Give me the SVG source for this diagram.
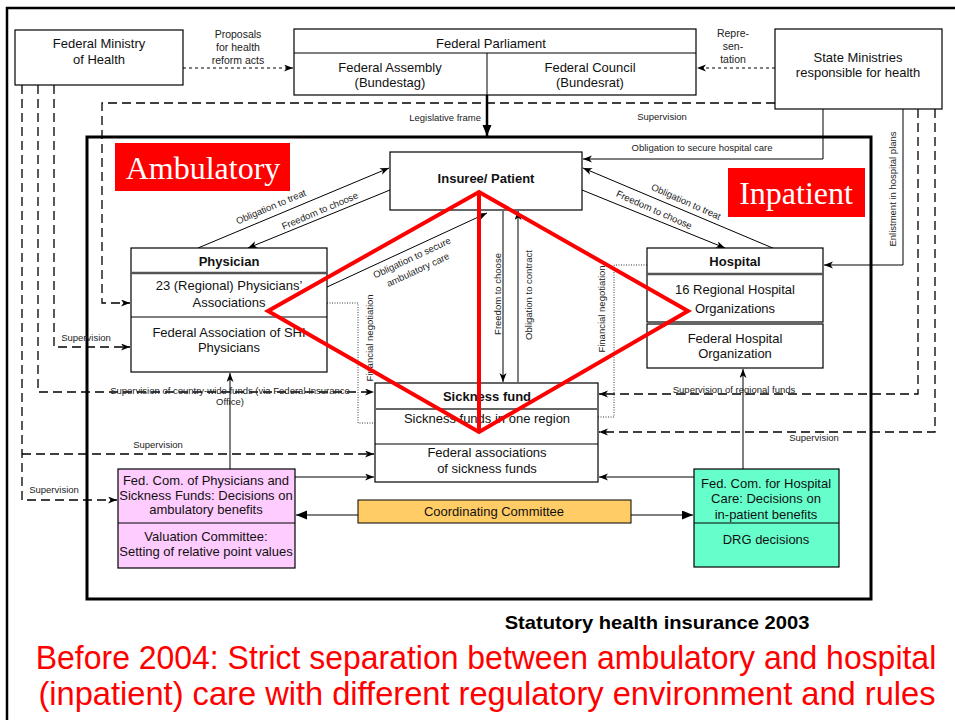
<svg xmlns="http://www.w3.org/2000/svg" width="955" height="720" viewBox="0 0 955 720">
<style>
.t{font-family:"Liberation Sans",Arial,sans-serif;font-size:13px;fill:#111;text-anchor:middle}
.b{font-weight:bold}
.s{font-family:"Liberation Sans",Arial,sans-serif;font-size:9.5px;fill:#222;text-anchor:middle}
.m{font-family:"Liberation Sans",Arial,sans-serif;font-size:10.5px;fill:#222;text-anchor:middle}
.box{fill:#fff;stroke:#000;stroke-width:1.2}
.ln{fill:none;stroke:#000;stroke-width:1}
.dl{fill:none;stroke:#000;stroke-width:1.3;stroke-dasharray:9,5}
.ds{fill:none;stroke:#000;stroke-width:1;stroke-dasharray:3,3}
.dot{fill:none;stroke:#000;stroke-width:0.8;stroke-dasharray:1,1.5}
.red{font-family:"Liberation Serif","Times New Roman",serif;font-size:32px;fill:#fff;text-anchor:middle}
.cap{font-family:"Liberation Sans",Arial,sans-serif;font-size:34px;text-anchor:middle;fill:#ff0000}
</style>
<defs>
<marker id="a" markerUnits="userSpaceOnUse" markerWidth="10" markerHeight="8" refX="9" refY="3.5" orient="auto"><path d="M0,0 L9,3.5 L0,7 L2.5,3.5 z" fill="#000"/></marker>
<marker id="af" markerUnits="userSpaceOnUse" markerWidth="12" markerHeight="10" refX="11" refY="4.5" orient="auto"><path d="M0,0 L11,4.5 L0,9 z" fill="#000"/></marker>
</defs>
<rect x="0" y="0" width="955" height="720" fill="#fff"/>
<!-- outer frame -->
<rect x="7" y="8" width="960" height="730" fill="none" stroke="#000" stroke-width="2.5"/>
<!-- inner box -->
<rect x="87" y="137" width="784" height="462" fill="none" stroke="#000" stroke-width="3"/>

<g id="labels-red">
<rect x="115" y="143" width="175" height="48" fill="#ff0000"/>
<text class="red" x="203" y="179">Ambulatory</text>
<rect x="728" y="168" width="137" height="49" fill="#ff0000"/>
<text class="red" x="796" y="204">Inpatient</text>
</g>

<g id="connectors">
<!-- top -->
<line class="ds" x1="183" y1="68" x2="293" y2="68" marker-end="url(#a)"/>
<text class="m" x="238" y="38">Proposals</text>
<text class="m" x="238" y="51">for health</text>
<text class="m" x="238" y="64">reform acts</text>
<line class="ds" x1="775" y1="68" x2="697" y2="68" marker-end="url(#a)"/>
<text class="m" x="733" y="37">Repre-</text>
<text class="m" x="733" y="50">sen-</text>
<text class="m" x="733" y="63">tation</text>
<polyline class="dl" points="775,103 102,103 102,303 130,303" marker-end="url(#a)"/>
<text class="s" x="662" y="120">Supervision</text>
<line x1="487" y1="95" x2="487" y2="136" stroke="#000" stroke-width="2.5" marker-end="url(#af)"/>
<text class="s" x="481" y="121" style="text-anchor:end">Legislative frame</text>
<polyline class="ln" points="823,109 823,159 583,159" marker-end="url(#a)"/>
<text class="s" x="702" y="151">Obligation to secure hospital care</text>
<polyline class="ln" points="903,109 903,265 824,265" marker-end="url(#a)"/>
<text class="s" transform="translate(896,189) rotate(-90)" x="0" y="0">Enlistment in hospital plans</text>
<polyline class="dl" points="918,109 918,394 599,394" marker-end="url(#a)"/>
<text class="s" x="734" y="393">Supervision of regional funds</text>
<polyline class="dl" points="935,109 935,432 599,432" marker-end="url(#a)"/>
<text class="s" x="814" y="441">Supervision</text>
<!-- left ministry lines -->
<polyline class="dl" points="54,85 54,347 130,347" marker-end="url(#a)"/>
<text class="s" x="86" y="341">Supervision</text>
<polyline class="dl" points="38,85 38,392 374,392" marker-end="url(#a)"/>
<text class="s" x="230" y="394">Supervision of country-wide funds (via Federal Insurance</text>
<text class="s" x="230" y="405">Office)</text>
<polyline class="dl" points="22,85 22,500 117,500" marker-end="url(#a)"/>
<text class="s" x="54" y="493">Supervision</text>
<polyline class="dl" points="22,454 374,454" marker-end="url(#a)"/>
<text class="s" x="158" y="448">Supervision</text>
<!-- physician / insuree -->
<line class="ln" x1="198" y1="248" x2="389" y2="168" marker-end="url(#a)"/>
<line class="ln" x1="390" y1="190" x2="248" y2="248" marker-end="url(#a)"/>
<text class="s" transform="translate(271,207) rotate(-23)" x="0" y="3">Obligation to treat</text>
<text class="s" transform="translate(320,211) rotate(-23)" x="0" y="3">Freedom to choose</text>
<line class="ln" x1="327" y1="287" x2="487" y2="213" marker-end="url(#a)"/>
<text class="s" transform="translate(412,258) rotate(-25)" x="0" y="3">Obligation to secure</text>
<text class="s" transform="translate(418,270) rotate(-25)" x="0" y="3">ambulatory care</text>
<!-- hospital / insuree -->
<line class="ln" x1="775" y1="249" x2="583" y2="168" marker-end="url(#a)"/>
<line class="ln" x1="582" y1="190" x2="725" y2="248" marker-end="url(#a)"/>
<text class="s" transform="translate(686,202) rotate(24)" x="0" y="3">Obligation to treat</text>
<text class="s" transform="translate(654,210) rotate(24)" x="0" y="3">Freedom to choose</text>
<!-- insuree / sickness fund -->
<line class="ln" x1="503" y1="211" x2="503" y2="382" marker-end="url(#a)"/>
<line class="ln" x1="518" y1="382" x2="518" y2="211" marker-end="url(#a)"/>
<text class="s" transform="translate(501,294) rotate(-90)" x="0" y="0">Freedom to choose</text>
<text class="s" transform="translate(532,295) rotate(-90)" x="0" y="0">Obligation to contract</text>
<!-- financial negotiation -->
<polyline class="dot" points="327,303 358,303 358,423 375,423"/>
<text class="s" transform="translate(373,338) rotate(-90)" x="0" y="0">Financial negotiation</text>
<polyline class="dot" points="647,265 614,265 614,417 598,417"/>
<text class="s" transform="translate(605,309) rotate(-90)" x="0" y="0">Financial negotiation</text>
<!-- committees -->
<line class="ln" x1="230" y1="469" x2="230" y2="373" marker-end="url(#a)"/>
<line class="ln" x1="295" y1="477" x2="374" y2="477" marker-end="url(#a)"/>
<line class="ln" x1="743" y1="469" x2="743" y2="369" marker-end="url(#a)"/>
<line class="ln" x1="694" y1="477" x2="599" y2="477" marker-end="url(#a)"/>
<line class="ln" x1="358" y1="515" x2="296" y2="515" marker-end="url(#af)"/>
<line class="ln" x1="631" y1="515" x2="693" y2="515" marker-end="url(#af)"/>
</g>

<g id="ministry">
<rect class="box" x="15" y="30" width="168" height="55"/>
<text class="t" x="99" y="48">Federal Ministry</text>
<text class="t" x="99" y="64">of Health</text>
</g>
<g id="parliament">
<rect class="box" x="294" y="29" width="402" height="66"/>
<line class="ln" x1="294" y1="53" x2="696" y2="53"/>
<line class="ln" x1="487" y1="53" x2="487" y2="95"/>
<text class="t" x="491" y="48">Federal Parliament</text>
<text class="t" x="390" y="72">Federal Assembly</text>
<text class="t" x="390" y="87">(Bundestag)</text>
<text class="t" x="590" y="72">Federal Council</text>
<text class="t" x="590" y="87">(Bundesrat)</text>
</g>
<g id="state">
<rect class="box" x="775" y="29" width="167" height="80"/>
<text class="t" x="858" y="62">State Ministries</text>
<text class="t" x="858" y="77">responsible for health</text>
</g>
<g id="insuree">
<rect class="box" x="390" y="152" width="192" height="58"/>
<text class="t b" x="486" y="183">Insuree/ Patient</text>
</g>
<g id="physician">
<rect class="box" x="131" y="248" width="196" height="124"/>
<line x1="131" y1="273" x2="327" y2="273" stroke="#555" stroke-width="2.5"/>
<line class="ln" x1="131" y1="317" x2="327" y2="317"/>
<text class="t b" x="229" y="266">Physician</text>
<text class="t" x="229" y="290">23 (Regional) Physicians’</text>
<text class="t" x="229" y="307">Associations</text>
<text class="t" x="229" y="337">Federal Association of SHI</text>
<text class="t" x="229" y="352">Physicians</text>
</g>
<g id="hospital">
<rect class="box" x="647" y="248" width="176" height="74"/>
<line x1="647" y1="274" x2="823" y2="274" stroke="#555" stroke-width="2.5"/>
<text class="t b" x="735" y="266">Hospital</text>
<text class="t" x="735" y="294">16 Regional Hospital</text>
<text class="t" x="735" y="313">Organizations</text>
</g>
<g id="federal-hospital">
<rect class="box" x="647" y="324" width="176" height="44"/>
<text class="t" x="735" y="343">Federal Hospital</text>
<text class="t" x="735" y="358">Organization</text>
</g>
<g id="sickness-fund">
<rect class="box" x="375" y="383" width="223" height="99"/>
<line x1="375" y1="409" x2="598" y2="409" stroke="#666" stroke-width="2"/>
<line class="ln" x1="375" y1="444" x2="598" y2="444"/>
<text class="t b" x="487" y="401">Sickness fund</text>
<text class="t" x="487" y="423">Sickness funds in one region</text>
<text class="t" x="487" y="457">Federal associations</text>
<text class="t" x="487" y="473">of sickness funds</text>
</g>
<g id="fed-com-physicians">
<rect x="118" y="469" width="177" height="99" fill="#ffccff" stroke="#000" stroke-width="1.2"/>
<line class="ln" x1="118" y1="523" x2="295" y2="523"/>
<text class="t" x="206" y="485">Fed. Com. of Physicians and</text>
<text class="t" x="206" y="500">Sickness Funds: Decisions on</text>
<text class="t" x="206" y="514">ambulatory benefits</text>
<text class="t" x="206" y="541">Valuation Committee:</text>
<text class="t" x="206" y="556">Setting of relative point values</text>
</g>
<g id="coordinating">
<rect x="358" y="500" width="273" height="23" fill="#ffcc66" stroke="#000" stroke-width="1"/>
<text class="t" x="494" y="516">Coordinating Committee</text>
</g>
<g id="fed-com-hospital">
<rect x="694" y="469" width="145" height="98" fill="#66ffcc" stroke="#000" stroke-width="1.2"/>
<line class="ln" x1="694" y1="523" x2="839" y2="523"/>
<text class="t" x="766" y="488">Fed. Com. for Hospital</text>
<text class="t" x="766" y="503">Care: Decisions on</text>
<text class="t" x="766" y="519">in-patient benefits</text>
<text class="t" x="766" y="544">DRG decisions</text>
</g>

<g id="red-diamond" fill="none" stroke="#ff0000" stroke-width="4" stroke-linejoin="miter">
<polygon points="479,192 688,311 479,432 268,311"/>
<line x1="479" y1="192" x2="479" y2="432"/>
</g>

<text transform="translate(657,629) scale(1.12,1)" x="0" y="0" style="font-family:'Liberation Sans',Arial,sans-serif;font-size:18px;font-weight:bold;text-anchor:middle;fill:#000">Statutory health insurance 2003</text>
<text class="cap" transform="translate(486,669) scale(0.94,1)" x="0" y="0">Before 2004: Strict separation between ambulatory and hospital</text>
<text class="cap" transform="translate(487,705) scale(0.96,1)" x="0" y="0">(inpatient) care with different regulatory environment and rules</text>
</svg>
